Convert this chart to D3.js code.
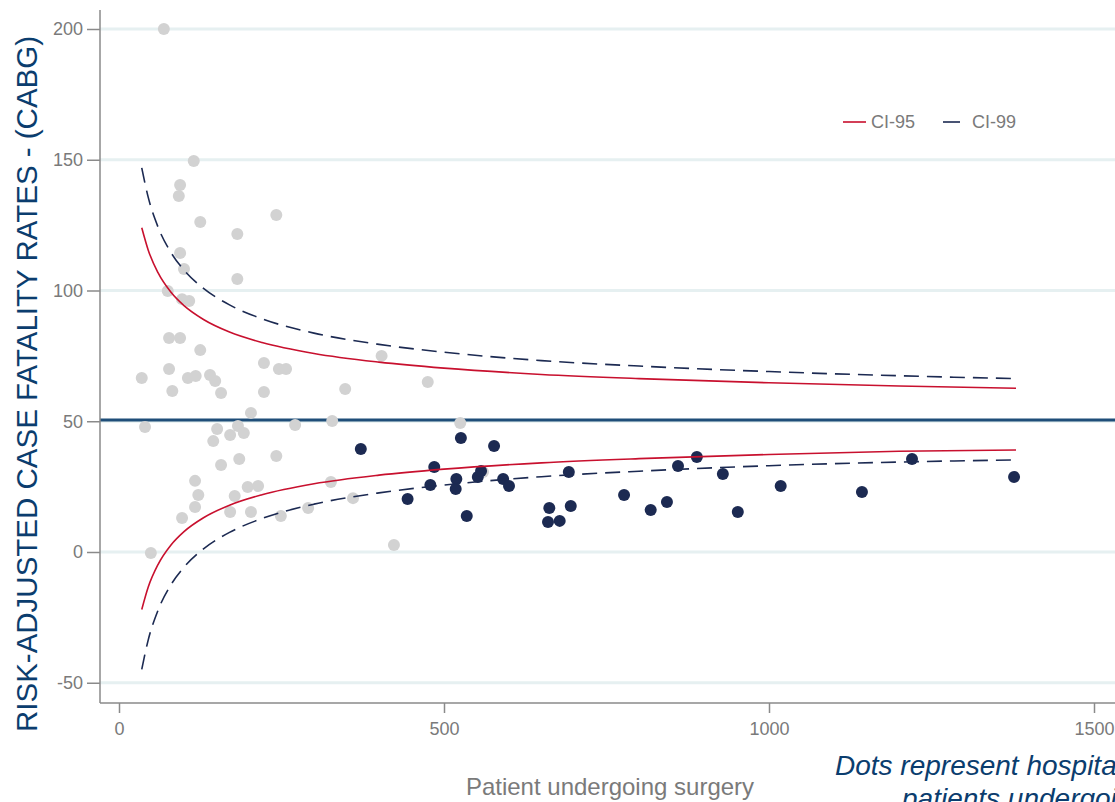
<!DOCTYPE html>
<html><head><meta charset="utf-8">
<script src="https://cdn.jsdelivr.net/npm/d3@7"></script>
<style>body{margin:0;background:#fff;}svg{display:block;font-family:"Liberation Sans",Arial,sans-serif;}</style>
</head><body>
<svg id="c" width="1115" height="802"></svg>
<script>
// ---- data ----
const yTicks = [-50, 0, 50, 100, 150, 200];
const xTicks = [0, 500, 1000, 1500];
const meanRate = 50.5;

// control limits
const limitN    = [35, 45, 60, 80, 100, 130, 170, 220, 300, 400, 500, 650, 800, 1000, 1200, 1380];
const ci95Upper = [124.0, 115.4, 106.8, 99.3, 94.2, 88.9, 84.1, 80.1, 75.9, 72.6, 70.3, 67.9, 66.3, 64.7, 63.5, 62.6];
const ci95Lower = [-22.0, -13.4, -4.8, 2.7, 7.8, 13.1, 17.9, 21.9, 26.1, 29.4, 31.7, 34.1, 35.7, 37.3, 38.5, 39.0];
const ci99Upper = [146.9, 135.6, 124.3, 114.5, 107.8, 100.8, 94.5, 89.2, 83.7, 79.4, 76.4, 73.2, 71.1, 69.0, 67.4, 66.3];
const ci99Lower = [-44.9, -33.6, -22.3, -12.5, -5.8, 1.2, 7.5, 12.8, 18.3, 22.6, 25.6, 28.8, 30.9, 33.0, 34.4, 35.2];

// hospitals (grey)
const greyN = [69,115,94,92,125,242,182,94,100,182,75,97,108,77,94,125,35,40,77,82,106,118,140,148,157,223,246,257,223,203,151,145,183,171,192,185,157,242,271,117,122,117,97,171,178,198,214,203,249,49,291,326,328,348,360,404,423,475,525,560];
const greyRate = [200,149.5,140.3,136.1,126.2,128.9,121.6,114.3,108.2,104.4,99.8,96.7,96.0,81.8,81.8,77.2,66.5,47.8,70.0,61.6,66.5,67.3,67.7,65.4,60.8,72.3,70.0,70.0,61.2,53.2,47.0,42.4,48.2,44.7,45.5,35.6,33.3,36.7,48.6,27.2,21.8,17.2,13.0,15.3,21.4,24.9,25.2,15.3,13.8,-0.4,16.8,26.8,50.1,62.3,20.6,75.0,2.7,65.0,49.3,30.6];
// hospitals (navy)
const navyN = [372,526,577,485,479,519,518,444,535,552,557,591,600,662,660,678,695,692,777,818,843,860,889,929,952,1018,1143,1220,1377];
const navyRate = [39.4,43.6,40.5,32.5,25.6,27.9,24.1,20.3,13.8,28.7,31.0,27.9,25.2,16.8,11.5,11.9,17.6,30.6,21.8,16.1,19.1,32.9,36.3,29.8,15.3,25.2,22.9,35.6,28.7];

const legendLabels = ["CI-95", "CI-99"];
const yTitle = "RISK-ADJUSTED CASE FATALITY RATES - (CABG)";
const xTitle = "Patient undergoing surgery";
const noteLines = ["Dots represent hospitals with at least 30", "patients undergoing surgery"];

// ---- drawing ----
const svg = d3.select("#c");
const W = 1115, H = 802;
const x = d3.scaleLinear().domain([0, 1500]).range([119, 1094]);
const y = d3.scaleLinear().domain([-50, 200]).range([682.75, 29]);
const left = 100, bottom = 703;
const grey = "#7a7a7a", red = "#c8102e", navy = "#1c2a52", dark = "#0b3d6e";

// gridlines
svg.append("g").selectAll("line").data(yTicks).join("line")
  .attr("x1", left).attr("x2", W).attr("y1", d => y(d)).attr("y2", d => y(d))
  .attr("stroke", "#e6f0f1").attr("stroke-width", 3);

// mean line
svg.append("line").attr("x1", left).attr("x2", W)
  .attr("y1", y(meanRate)).attr("y2", y(meanRate))
  .attr("stroke", "#1f4e79").attr("stroke-width", 3);

// axes
const yAxis = svg.append("g").attr("transform", `translate(${left},0)`)
  .call(d3.axisLeft(y).tickValues(yTicks).tickSize(13).tickPadding(4).tickFormat(d => String(d)));
const xAxis = svg.append("g").attr("transform", `translate(0,${bottom})`)
  .call(d3.axisBottom(x).tickValues(xTicks).tickSize(10).tickPadding(9).tickFormat(d => String(d)));
[yAxis, xAxis].forEach(g => {
  g.select(".domain").remove();
  g.selectAll(".tick line").attr("stroke", "#8a8a8a").attr("stroke-width", 1.5);
  g.selectAll(".tick text").attr("fill", grey).attr("font-size", 18)
    .attr("font-family", "'Liberation Sans', Arial, sans-serif");
});
svg.append("line").attr("x1", left).attr("x2", left).attr("y1", 10).attr("y2", bottom)
  .attr("stroke", "#8a8a8a").attr("stroke-width", 1.5);
svg.append("line").attr("x1", left).attr("x2", W).attr("y1", bottom).attr("y2", bottom)
  .attr("stroke", "#8a8a8a").attr("stroke-width", 1.5);

// dots
svg.append("g").selectAll("circle").data(greyN.map((n, i) => [n, greyRate[i]])).join("circle")
  .attr("cx", d => x(d[0])).attr("cy", d => y(d[1])).attr("r", 6).attr("fill", "#d2d2d2");
svg.append("g").selectAll("circle").data(navyN.map((n, i) => [n, navyRate[i]])).join("circle")
  .attr("cx", d => x(d[0])).attr("cy", d => y(d[1])).attr("r", 6).attr("fill", navy);

// control limits
const line = d3.line().x(d => x(d[0])).y(d => y(d[1])).curve(d3.curveMonotoneX);
const series = [
  {v: ci95Upper, c: red, dash: null},
  {v: ci95Lower, c: red, dash: null},
  {v: ci99Upper, c: navy, dash: "15,8"},
  {v: ci99Lower, c: navy, dash: "15,8"}
];
series.forEach(s => {
  svg.append("path").attr("d", line(limitN.map((n, i) => [n, s.v[i]])))
    .attr("fill", "none").attr("stroke", s.c).attr("stroke-width", 1.6)
    .attr("stroke-dasharray", s.dash);
});

// legend
const lg = svg.append("g");
lg.append("line").attr("x1", 843).attr("x2", 866).attr("y1", 122).attr("y2", 122).attr("stroke", red).attr("stroke-width", 1.6);
lg.append("text").attr("x", 871).attr("y", 128).attr("fill", grey).attr("font-size", 18).text(legendLabels[0]);
lg.append("line").attr("x1", 943).attr("x2", 960).attr("y1", 122).attr("y2", 122).attr("stroke", navy).attr("stroke-width", 1.6);
lg.append("text").attr("x", 972).attr("y", 128).attr("fill", grey).attr("font-size", 18).text(legendLabels[1]);

// titles
svg.append("text").attr("transform", "translate(37,384) rotate(-90)")
  .attr("text-anchor", "middle").attr("fill", dark).attr("font-size", 29.5).text(yTitle);
svg.append("text").attr("x", 610).attr("y", 795).attr("text-anchor", "middle")
  .attr("fill", grey).attr("font-size", 24).text(xTitle);
svg.append("text").attr("x", 835).attr("y", 775).attr("fill", dark).attr("font-size", 28)
  .attr("font-style", "italic").text(noteLines[0]);
svg.append("text").attr("x", 902).attr("y", 808).attr("fill", dark).attr("font-size", 28)
  .attr("font-style", "italic").text(noteLines[1]);
</script>
</body></html>
